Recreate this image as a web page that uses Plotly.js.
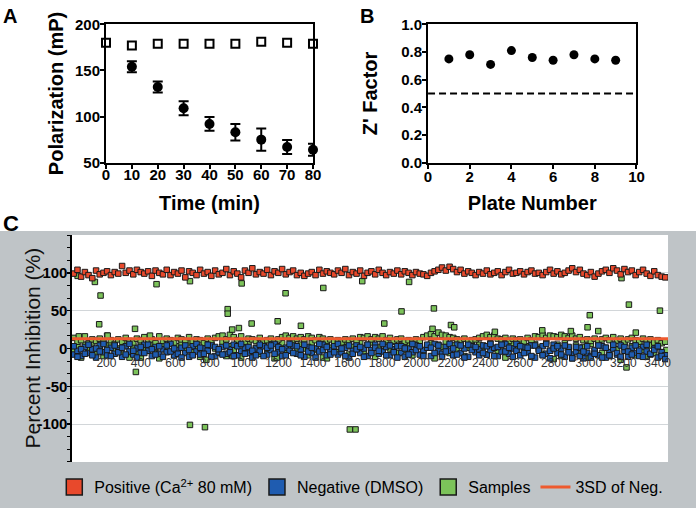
<!DOCTYPE html>
<html>
<head>
<meta charset="utf-8">
<script src="https://cdn.plot.ly/plotly-3.0.1.min.js"></script>
<style>
  html, body { margin: 0; padding: 0; background: #fff; }
  #chart { width: 696px; height: 508px; }
</style>
</head>
<body>
<div id="chart"></div>
<script>
// --- Panel A: polarization vs time ---
const timeOpen = [0, 10, 20, 30, 40, 50, 60, 70, 80];
const polOpen = [180, 177, 179, 179, 179, 179, 181, 180, 179];
const polOpenErr = [2, 2, 1, 1, 1, 3, 1, 1, 1];
const timeFilled = [10, 20, 30, 40, 50, 60, 70, 80];
const polFilled = [154, 132, 109, 92, 83, 75, 67, 64];
const polFilledErr = [6, 6, 7.5, 7.5, 9, 12, 7.5, 6.5];

// --- Panel B: Z' factor per plate ---
const plates = [1, 2, 3, 4, 5, 6, 7, 8, 9];
const zFactor = [0.75, 0.78, 0.71, 0.81, 0.76, 0.74, 0.78, 0.75, 0.74];
const cutoffX = [0, 10];
const cutoffY = [0.5, 0.5];

// --- Panel C: percent inhibition per well ---
const wells = [
  10, 32, 53, 75, 96, 118, 140, 161, 183, 204,
  226, 248, 269, 291, 312, 334, 356, 377, 399, 420,
  442, 464, 485, 507, 528, 550, 572, 593, 615, 636,
  658, 680, 701, 723, 744, 766, 788, 809, 831, 852,
  874, 896, 917, 939, 960, 982, 1004, 1025, 1047, 1068,
  1090, 1112, 1133, 1155, 1176, 1198, 1220, 1241, 1263, 1284,
  1306, 1328, 1349, 1371, 1392, 1414, 1436, 1457, 1479, 1500,
  1522, 1544, 1565, 1587, 1608, 1630, 1652, 1673, 1695, 1716,
  1738, 1760, 1781, 1803, 1824, 1846, 1868, 1889, 1911, 1932,
  1954, 1976, 1997, 2019, 2040, 2062, 2084, 2105, 2127, 2148,
  2170, 2192, 2213, 2235, 2256, 2278, 2300, 2321, 2343, 2364,
  2386, 2408, 2429, 2451, 2472, 2494, 2516, 2537, 2559, 2580,
  2602, 2624, 2645, 2667, 2688, 2710, 2732, 2753, 2775, 2796,
  2818, 2840, 2861, 2883, 2904, 2926, 2948, 2969, 2991, 3012,
  3034, 3056, 3077, 3099, 3120, 3142, 3164, 3185, 3207, 3228,
  3250, 3272, 3293, 3315, 3336, 3358, 3380, 3401, 3423, 3444
];
const positive = [
  99, 104, 95, 101, 97, 93, 103, 98, 100, 102,
  97, 101, 99, 109, 100, 103, 98, 104, 101, 99,
  102, 96, 103, 100, 98, 104, 97, 101, 99, 103,
  94, 102, 100, 97, 104, 99, 101, 96, 103, 98,
  100, 105, 97, 102, 99, 94, 103, 100, 106, 98,
  101, 99, 104, 97, 102, 100, 105, 98, 101, 103,
  97, 100, 96, 99, 101, 97, 104, 99, 102, 100,
  98, 103, 100, 105, 97, 101, 99, 103, 96, 100,
  102, 98, 104, 100, 97, 101, 99, 103, 98, 102,
  100, 97, 101, 99, 98, 96, 100, 102, 104, 107,
  103, 108, 105, 101, 104, 99, 102, 100, 97, 101,
  99, 103, 98, 100, 102, 97, 101, 104, 99, 100,
  102, 98, 101, 103, 99, 100, 97, 101, 104, 99,
  102, 98, 100, 103, 106, 101, 104, 99, 97, 101,
  95, 99, 102, 104, 100, 106, 103, 98, 105, 101,
  103, 97, 101, 104, 99, 96, 102, 97, 95, 94
];
const negativeA = [
  -8, -3, -10, 2, -6, -1, -12, 4, -5, -9,
  1, -7, -2, -11, 3, -4, -8, 0, -6, 5,
  -3, -10, 2, -7, -1, -5, 6, -9, -2, 1,
  -6, -11, 3, -4, -8, 0, -3, 4, -10, -5,
  2, -7, -1, 5, -9, -3, 1, -6, -12, 0,
  -4, 3, -8, -2, 6, -5, -10, 1, -3, 4,
  -7, -1, -11, 2, -6, 0, -4, 5, -9, -2,
  3, -8, -5, 1, -12, -3, 4, -6, 0, -10,
  -2, 5, -7, -4, 2, -9, -1, 3, -6, -11,
  0, -5, 4, -8, -2, 1, -10, 6, -4, -7,
  2, -3, -9, 5, -6, 0, -11, 3, -5, -1,
  4, -8, -2, 1, -10, -4, 6, -7, 0, -3,
  -9, 2, -5, 4, -12, -1, 3, -7, -3, 5,
  -6, 0, -11, 2, -8, -4, 1, -13, -6, -10,
  -2, -9, 3, -12, -5, 0, -8, 4, -3, -11,
  1, -6, -10, 2, -4, -8, 0, -12, -5, -9
];
const negativeB = [
  3, -11, -1, -7, 5, -9, 0, -4, 6, -2,
  -10, 4, -5, 1, -8, 6, -3, -12, 2, -6,
  5, -1, -8, 3, -11, 4, -4, 0, -7, -12,
  4, -2, -9, 6, 1, -7, 5, -11, 2, -1,
  -8, 4, -5, -10, 3, 6, -7, 2, -3, -9,
  5, -10, 1, 4, -7, 2, -1, -9, 6, -6,
  3, -9, 5, -4, 1, -12, 6, -2, 2, -8,
  -5, 6, 0, -10, 4, -7, -1, 2, -11, 5,
  -6, 1, -3, 6, -9, 4, -5, -12, 3, 0,
  -8, 6, -2, 3, -10, 5, 1, -6, 4, -11,
  -4, 6, 0, -8, 4, -12, 5, -2, 2, -9,
  -6, 3, 6, -10, 2, 5, -4, 1, -11, 6,
  3, -6, 1, -10, 4, -3, -9, 6, -13, 0,
  3, -8, 4, -5, -13, 2, -10, -4, 3, -12,
  -7, 4, -12, 1, -9, 5, -6, -11, 2, -4,
  -8, 4, -3, -11, 5, -7, -2, 3, -10, -14
];
const samplesA = [
  14, 9, 11, 16, 7, 12, 10, 13, 8, 17,
  11, 6, 12, 9, 14, 10, 8, 13, 11, 15,
  9, 12, 7, 16, 10, 13, 11, 8, 14, 12,
  10, 15, 9, 12, 11, 7, 13, 10, 14, 16,
  17, 12, 18, 15, 11, 16, 9, 13, 12, 10,
  14, 8, 11, 13, 9, 12, 15, 17, 14, 16,
  13, 15, 12, 16, 14, 11, 15, 13, 10, 12,
  9, 11, 8, 12, 10, 13, 9, 15, 14, 16,
  12, 15, 13, 16, 11, 14, 10, 12, 13, 9,
  11, 8, 12, 10, 15, 17, 19, 16, 21, 18,
  17, 15, 14, 12, 10, 13, 9, 11, 12, 14,
  16, 18, 15, 17, 13, 12, 14, 10, 13, 11,
  12, 9, 14, 11, 16, 15, 18, 14, 17, 16,
  15, 18, 16, 14, 17, 13, 15, 11, 12, 10,
  13, 9, 12, 14, 11, 15, 10, 13, 8, 12,
  14, 11, 9, 13, 10, 12, 8, 11, 7, 9
];
const samplesB = [
  -4, 2, -12, 5, -1, 8, -7, 1, -10, 4,
  6, -3, 0, -8, 7, -12, 3, -5, 8, -2,
  1, 7, -6, -13, 5, -2, 9, -9, 3, 6,
  -1, 8, -5, 2, -11, 7, -3, 5, 0, -6,
  8, -10, 3, -2, 7, -12, 4, 9, -4, 1,
  -7, 6, -1, 8, -13, 3, 7, -4, 2, 9,
  -3, 5, 0, -9, 7, -2, 8, -12, 4, 1,
  6, -5, 3, 9, -8, 2, -1, 7, -4, 5,
  8, -11, 2, -3, 7, 0, 9, -6, 4, -2,
  6, -9, 1, 8, -4, 3, 7, -13, 5, 2,
  9, -6, 4, -2, 7, -10, 1, 8, -3, 5,
  2, -8, 7, 0, -5, 9, -12, 4, 6, -1,
  8, -4, 3, -11, 6, 1, -7, 9, -3, -14,
  5, -10, 7, -2, -13, 4, -8, 2, -12, 6,
  -3, 8, -6, 1, -10, 5, -1, -15, 7, -4,
  3, -9, 6, -2, -11, 4, -6, 2, -8, -13
];
// sample hits and other outliers
const outlierWells = [
  33, 133, 166, 158, 207, 40, 366, 371, 453, 491, 685, 685, 772, 904, 904,
  930, 969, 985, 1043, 1194, 1240, 1329, 1459, 1613, 1646, 1685, 1957, 1913,
  2101, 1813, 2093, 2200, 2219, 2455, 2730, 2896, 3006, 2993, 3055, 3233,
  3413, 3273, 3219, 3190, 3451, 3451, 400, 780, 930, 1190, 1480
];
const outlierInh = [
  96, 88, 70, 32, 17, 16, 26, -31, 17, 85, 89, -101, -104, 52, 46,
  25, 27, 86, 33, 36, 73, 30, 80, -107, -107, 89, 88, 49,
  53, 33, 26, 31, 28, 22, 24, 23, 44, 28, 23, 58,
  50, 21, -25, 93, -2, -9, -12, -15, -10, -12, -13
];
const sdLineX = [0, 3460];
const sdLineY = [13, 13];
const cTicks = [200, 400, 600, 800, 1000, 1200, 1400, 1600, 1800, 2000,
  2200, 2400, 2600, 2800, 3000, 3200, 3400];
const cYTicks = [-100, -50, 0, 50, 100];
const cYLabels = ['-100', '-50', '0', '50', '100'];

const RED = '#e8492c';
const BLUE = '#1f5cb0';
const GREEN = '#7cc35a';
const EDGE = '#1a1a1a';
const SANS = 'Liberation Sans, Arial, sans-serif';

const bold = (size) => ({ family: SANS, size: size, color: '#000', weight: 'bold' });

function wellTrace(x, y, color) {
  return {
    x: x, y: y, type: 'scatter', mode: 'markers',
    xaxis: 'x3', yaxis: 'y3', showlegend: false, hoverinfo: 'skip',
    marker: { symbol: 'square', size: 5.5, color: color, line: { color: EDGE, width: 1 } }
  };
}

function legendTrace(name, color, rank) {
  return {
    x: [null], y: [null], type: 'scatter', mode: 'markers', name: name,
    xaxis: 'x3', yaxis: 'y3', legendrank: rank,
    marker: { symbol: 'square', size: 16, color: color, line: { color: EDGE, width: 1.5 } }
  };
}

const traces = [
  // A
  {
    x: timeFilled, y: polFilled, type: 'scatter', mode: 'markers',
    xaxis: 'x', yaxis: 'y', showlegend: false, cliponaxis: false,
    marker: { symbol: 'circle', size: 10, color: '#000' },
    error_y: { type: 'data', array: polFilledErr, color: '#000', thickness: 2, width: 5 }
  },
  {
    x: timeOpen, y: polOpen, type: 'scatter', mode: 'markers',
    xaxis: 'x', yaxis: 'y', showlegend: false, cliponaxis: false,
    marker: { symbol: 'square', size: 8, color: '#fff', line: { color: '#000', width: 2 } },
    error_y: { type: 'data', array: polOpenErr, color: '#000', thickness: 2, width: 4 }
  },
  // B
  {
    x: cutoffX, y: cutoffY, type: 'scatter', mode: 'lines',
    xaxis: 'x2', yaxis: 'y2', showlegend: false,
    line: { color: '#000', width: 2, dash: '7px,4px' }
  },
  {
    x: plates, y: zFactor, type: 'scatter', mode: 'markers',
    xaxis: 'x2', yaxis: 'y2', showlegend: false, cliponaxis: false,
    marker: { symbol: 'circle', size: 9, color: '#000' }
  },
  // C
  wellTrace(wells, samplesB, GREEN),
  wellTrace(wells, samplesA, GREEN),
  wellTrace(outlierWells, outlierInh, GREEN),
  wellTrace(wells, negativeA, BLUE),
  wellTrace(wells, negativeB, BLUE),
  wellTrace(wells, positive, RED),
  {
    x: sdLineX, y: sdLineY, type: 'scatter', mode: 'lines', name: '3SD of Neg.',
    xaxis: 'x3', yaxis: 'y3', legendrank: 4,
    line: { color: '#ee5a2f', width: 3 }
  },
  legendTrace('Positive (Ca<sup>2+</sup> 80 mM)', RED, 1),
  legendTrace('Negative (DMSO)', BLUE, 2),
  legendTrace('Samples', GREEN, 3)
];

const boxAxis = {
  showline: true, linecolor: '#000', linewidth: 2, mirror: true,
  ticks: 'outside', ticklen: 4, tickwidth: 2, tickcolor: '#000',
  ticklabelstandoff: -3,
  showgrid: false, zeroline: false, tickfont: bold(15)
};

const layout = {
  width: 696, height: 508,
  margin: { l: 0, r: 0, t: 0, b: 0 },
  paper_bgcolor: '#fff', plot_bgcolor: '#fff',
  font: { family: SANS, color: '#000' },
  xaxis: Object.assign({}, boxAxis, {
    domain: [0.1523, 0.4497], range: [0, 80], dtick: 10, anchor: 'y', ticklabelstandoff: -7,
    title: { text: 'Time (min)', font: bold(20), standoff: 14 }
  }),
  yaxis: Object.assign({}, boxAxis, {
    domain: [0.6797, 0.9522], range: [50, 200], dtick: 50, anchor: 'x',
    title: { text: 'Polarization (mP)', font: bold(20), standoff: 6 }
  }),
  xaxis2: Object.assign({}, boxAxis, {
    domain: [0.615, 0.9145], range: [0, 10], dtick: 2, anchor: 'y2', ticklabelstandoff: -5,
    title: { text: 'Plate Number', font: bold(20), standoff: 12 }
  }),
  yaxis2: Object.assign({}, boxAxis, {
    domain: [0.6797, 0.9522], range: [0, 1], dtick: 0.2, tickformat: '.1f', anchor: 'x2',
    title: { text: "Z' Factor", font: bold(20), standoff: 18 }
  }),
  xaxis3: {
    domain: [0.1034, 0.9598], range: [0, 3460], anchor: 'free', position: 0.304,
    tickmode: 'array', tickvals: cTicks, ticks: '', showline: false,
    showgrid: false, zeroline: false,
    tickfont: { family: SANS, size: 12, color: '#333' }
  },
  yaxis3: {
    domain: [0.0906, 0.5374], range: [-150, 150], anchor: 'x3',
    tickmode: 'array', tickvals: cYTicks, ticktext: cYLabels,
    ticks: 'outside', ticklen: 3, tickwidth: 1.5, tickcolor: '#000',
    ticklabelstandoff: -3,
    minor: { dtick: 50 / 3, tick0: 0, ticks: 'outside', ticklen: 3, tickwidth: 1, tickcolor: '#000', showgrid: false },
    showline: true, linecolor: '#000', linewidth: 1.5,
    showgrid: true, gridcolor: '#d2d6d9', gridwidth: 1, zeroline: false,
    tickfont: bold(15)
  },
  legend: {
    orientation: 'h', x: 0.078, xanchor: 'left', y: 0.041, yanchor: 'middle',
    bgcolor: 'rgba(0,0,0,0)', traceorder: 'normal',
    font: { family: SANS, size: 16, color: '#000' }
  },
  shapes: [
    { type: 'rect', xref: 'paper', yref: 'paper', x0: 0, x1: 1, y0: 0, y1: 0.5453,
      fillcolor: '#bfc4c7', line: { width: 0 }, layer: 'below' },
    { type: 'rect', xref: 'x3 domain', yref: 'y3 domain', x0: 0, x1: 1, y0: 0, y1: 1,
      fillcolor: '#ffffff', line: { width: 0 }, layer: 'below' }
  ],
  annotations: [
    { text: '<b>A</b>', xref: 'paper', yref: 'paper', x: 0.002, y: 0.995, xanchor: 'left', yanchor: 'top',
      showarrow: false, font: { family: SANS, size: 20, color: '#000' } },
    { text: '<b>B</b>', xref: 'paper', yref: 'paper', x: 0.515, y: 0.995, xanchor: 'left', yanchor: 'top',
      showarrow: false, font: { family: SANS, size: 20, color: '#000' } },
    { text: '<b>C</b>', xref: 'paper', yref: 'paper', x: 0.002, y: 0.588, xanchor: 'left', yanchor: 'top',
      showarrow: false, font: { family: SANS, size: 22, color: '#000' } },
    // y-axis title of panel C, set close to the tick labels like the original
    { text: 'Percent Inhibition (%)', xref: 'paper', yref: 'y3 domain', x: 0.046, y: 0.5,
      xanchor: 'center', yanchor: 'middle', textangle: -90, showarrow: false,
      font: { family: SANS, size: 21, color: '#111' } }
  ]
};

Plotly.newPlot('chart', traces, layout, { displayModeBar: false, staticPlot: true });
</script>
</body>
</html>
